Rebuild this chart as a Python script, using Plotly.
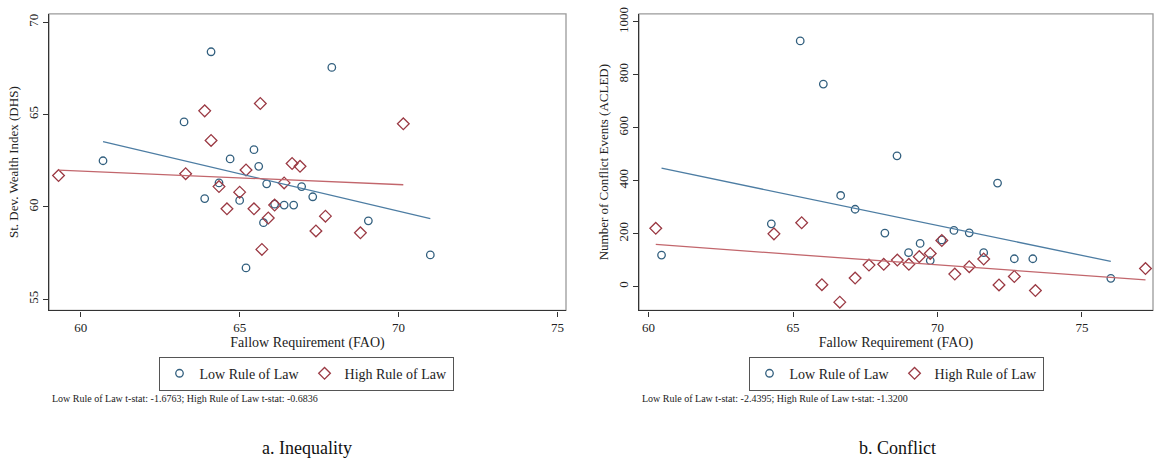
import plotly.graph_objects as go

# ---------------- Panel a: Inequality ----------------
ineq_low_x = [60.7, 63.25, 64.1, 63.9, 64.35, 64.7, 65.0, 65.2, 65.45, 65.6, 65.75, 65.85,
              66.1, 66.4, 66.7, 66.95, 67.3, 67.9, 69.05, 71.0]
ineq_low_y = [62.5, 64.6, 68.4, 60.45, 61.3, 62.6, 60.35, 56.7, 63.1, 62.2, 59.15, 61.25,
              60.15, 60.1, 60.1, 61.1, 60.55, 67.55, 59.25, 57.4]
ineq_high_x = [59.3, 63.3, 63.9, 64.1, 64.35, 64.6, 65.0, 65.2, 65.45, 65.65, 65.7, 65.9,
               66.1, 66.4, 66.65, 66.9, 67.4, 67.7, 68.8, 70.15]
ineq_high_y = [61.7, 61.8, 65.2, 63.6, 61.1, 59.9, 60.8, 62.0, 59.9, 65.6, 57.7, 59.4,
               60.1, 61.3, 62.35, 62.2, 58.7, 59.5, 58.6, 64.5]
ineq_fit_low_x = [60.7, 71.0]
ineq_fit_low_y = [63.53, 59.37]
ineq_fit_high_x = [59.3, 70.15]
ineq_fit_high_y = [61.99, 61.2]

# ---------------- Panel b: Conflict ----------------
conf_low_x = [60.45, 64.25, 65.25, 66.05, 66.65, 67.15, 68.6, 68.18, 69.0, 69.4, 69.75,
              70.15, 70.57, 71.1, 71.6, 72.08, 72.66, 73.3, 76.0]
conf_low_y = [119, 237, 928, 765, 344, 292, 494, 202, 128, 163, 98,
              176, 212, 203, 128, 391, 105, 105, 31]
conf_high_x = [60.25, 64.34, 65.3, 66.0, 66.62, 67.15, 67.63, 68.14, 68.61, 69.01, 69.37,
               69.75, 70.15, 70.6, 71.1, 71.6, 72.13, 72.66, 73.39, 77.2]
conf_high_y = [220, 199, 241, 7, -59, 32, 81, 84, 100, 84, 113,
               125, 174, 47, 75, 104, 6, 38, -15, 68]
conf_fit_low_x = [60.45, 76.0]
conf_fit_low_y = [447, 95]
conf_fit_high_x = [60.25, 77.2]
conf_fit_high_y = [159, 25]

x_ticks = [60, 65, 70, 75]
ineq_y_ticks = [55, 60, 65, 70]
conf_y_ticks = [0, 200, 400, 600, 800, 1000]

BLUE_PT = "#33607f"
BLUE_LN = "#4d7da3"
RED_PT = "#9b3a44"
RED_LN = "#c2666c"
FONT = "Liberation Serif"

fig = go.Figure()

def add_panel(xa, ya, lx, ly, hx, hy, flx, fly, fhx, fhy, legend):
    fig.add_trace(go.Scatter(x=lx, y=ly, mode="markers", name="Low Rule of Law",
                             xaxis=xa, yaxis=ya, legend=legend,
                             marker=dict(symbol="circle-open", size=7.5, color=BLUE_PT,
                                         line=dict(width=1.3, color=BLUE_PT))))
    fig.add_trace(go.Scatter(x=hx, y=hy, mode="markers", name="High Rule of Law",
                             xaxis=xa, yaxis=ya, legend=legend,
                             marker=dict(symbol="diamond-open", size=9, color=RED_PT,
                                         line=dict(width=1.3, color=RED_PT))))
    fig.add_trace(go.Scatter(x=flx, y=fly, mode="lines", showlegend=False,
                             xaxis=xa, yaxis=ya, line=dict(color=BLUE_LN, width=1.3)))
    fig.add_trace(go.Scatter(x=fhx, y=fhy, mode="lines", showlegend=False,
                             xaxis=xa, yaxis=ya, line=dict(color=RED_LN, width=1.3)))

add_panel("x", "y", ineq_low_x, ineq_low_y, ineq_high_x, ineq_high_y,
          ineq_fit_low_x, ineq_fit_low_y, ineq_fit_high_x, ineq_fit_high_y, "legend")
add_panel("x2", "y2", conf_low_x, conf_low_y, conf_high_x, conf_high_y,
          conf_fit_low_x, conf_fit_low_y, conf_fit_high_x, conf_fit_high_y, "legend2")

W, H = 1154, 466
def px(v):
    return v / W
def py(v):
    return 1 - v / H

ydom = [py(308), py(7)]
axis_common = dict(showgrid=False, zeroline=False, showline=True, linecolor="#333333",
                   linewidth=1.3, ticks="outside", ticklen=5, tickcolor="#333333",
                   tickfont=dict(family=FONT, size=13, color="#222222"))

fig.update_layout(
    width=W, height=H, margin=dict(l=0, r=0, t=0, b=0),
    paper_bgcolor="white", plot_bgcolor="white",
    font=dict(family=FONT, color="#222222"),
    xaxis=dict(domain=[px(49), px(566)], range=[59.0, 75.27], tickvals=x_ticks,
               title=dict(text="Fallow Requirement (FAO)", font=dict(family=FONT, size=14), standoff=2),
               anchor="y", **axis_common),
    yaxis=dict(domain=ydom, range=[54.4, 70.45], tickvals=ineq_y_ticks, tickangle=-90,
               title=dict(text="St. Dev. Wealth Index (DHS)", font=dict(family=FONT, size=13), standoff=4),
               anchor="x", **axis_common),
    xaxis2=dict(domain=[px(639), px(1153)], range=[59.67, 77.46], tickvals=x_ticks,
                title=dict(text="Fallow Requirement (FAO)", font=dict(family=FONT, size=14), standoff=2),
                anchor="y2", **axis_common),
    yaxis2=dict(domain=ydom, range=[-90, 1030], tickvals=conf_y_ticks, tickangle=-90,
                title=dict(text="Number of Conflict Events (ACLED)", font=dict(family=FONT, size=13), standoff=4),
                anchor="x2", **axis_common),
    legend=dict(orientation="h", x=px(306), xanchor="center", y=py(355), yanchor="top",
                bordercolor="#555555", borderwidth=1, bgcolor="white",
                font=dict(family=FONT, size=14), itemsizing="trace"),
    legend2=dict(orientation="h", x=px(896), xanchor="center", y=py(355), yanchor="top",
                 bordercolor="#555555", borderwidth=1, bgcolor="white",
                 font=dict(family=FONT, size=14), itemsizing="trace"),
)

# light gray frame on top / right of plot regions
for x0, x1 in [(px(49), px(566)), (px(639), px(1153))]:
    fig.add_shape(type="rect", xref="paper", yref="paper", x0=x0, x1=x1, y0=ydom[0], y1=ydom[1],
                  line=dict(color="#9a9a9a", width=1.3), layer="below")

fig.add_annotation(text="Low Rule of Law t-stat: -1.6763; High Rule of Law t-stat: -0.6836",
                   xref="paper", yref="paper", x=px(50), y=py(397), xanchor="left", yanchor="middle",
                   showarrow=False, font=dict(family=FONT, size=10, color="#222222"))
fig.add_annotation(text="Low Rule of Law t-stat: -2.4395; High Rule of Law t-stat: -1.3200",
                   xref="paper", yref="paper", x=px(640), y=py(397), xanchor="left", yanchor="middle",
                   showarrow=False, font=dict(family=FONT, size=10, color="#222222"))
fig.add_annotation(text="a. Inequality", xref="paper", yref="paper", x=px(307), y=py(448),
                   xanchor="center", yanchor="middle", showarrow=False,
                   font=dict(family=FONT, size=18, color="#111111"))
fig.add_annotation(text="b. Conflict", xref="paper", yref="paper", x=px(897), y=py(448),
                   xanchor="center", yanchor="middle", showarrow=False,
                   font=dict(family=FONT, size=18, color="#111111"))

fig.write_html("out.html", config={"displayModeBar": False},
               post_script="document.body.style.margin='0';")
